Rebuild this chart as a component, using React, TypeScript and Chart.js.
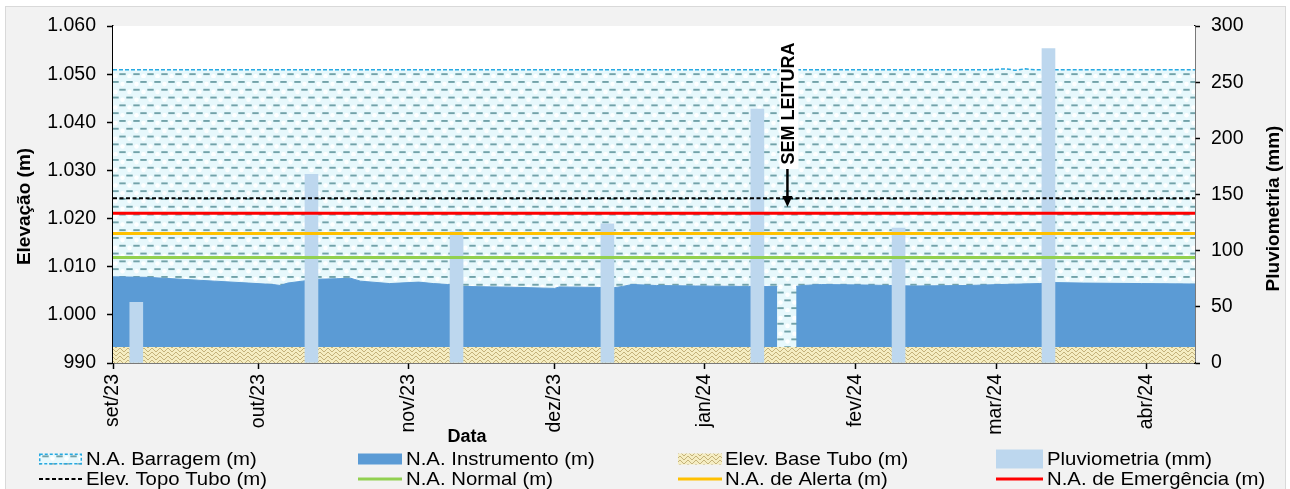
import React, { useEffect, useRef } from 'react';
import { Chart, registerables } from 'chart.js';

Chart.register(...registerables);

// ---- X axis (days since 01/set/23) ----
const monthStartDays = [0, 30, 61, 91, 122, 153, 182, 213];
const monthLabels = ['set/23', 'out/23', 'nov/23', 'dez/23', 'jan/24', 'fev/24', 'mar/24', 'abr/24'];
const xMaxDay = 223;

// ---- N.A. Barragem (m) ----
const barragemDays = [0, 60, 120, 180, 184, 186, 188, 190, 223];
const barragemValues = [1050.9, 1050.9, 1050.9, 1050.9, 1051.1, 1050.8, 1051.1, 1050.9, 1050.9];

// ---- N.A. Instrumento (m) (null = sem leitura) ----
const instrumentoDays = [
  0, 7, 14, 21, 28, 33, 34.5, 36, 39, 42, 46, 49, 51, 57, 63, 66, 69, 72, 82, 91, 92, 100, 103, 105, 107,
  112, 120, 131, 136.9, 137, 140.8, 142, 146, 155, 160, 165, 176, 183, 191, 194, 200, 212, 223,
];
const instrumentoValues = [
  1007.9, 1007.8, 1007.4, 1007.0, 1006.6, 1006.3, 1006.1, 1006.6, 1007.0, 1007.4, 1007.5, 1007.6, 1007.0,
  1006.5, 1006.8, 1006.5, 1006.3, 1005.9, 1005.75, 1005.5, 1005.8, 1005.7, 1005.6, 1005.9, 1006.3, 1006.1,
  1006.0, 1005.9, 1005.9, null, 1005.9, 1006.1, 1006.3, 1006.2, 1006.1, 1006.0, 1006.1, 1006.3, 1006.5,
  1006.7, 1006.6, 1006.5, 1006.4,
];

// ---- Reference levels (m) ----
const baseTuboValue = 993.3;
const topoTuboValue = 1024.2;
const normalValue = 1011.9;
const alertaValue = 1016.9;
const emergenciaValue = 1021.1;

// ---- Pluviometria (mm) ----
const chuvaDays = [4.8, 40.9, 70.8, 101.9, 132.8, 161.9, 192.8];
const chuvaValues = [54, 168, 117, 124, 226, 120, 280];

// ---- Annotation ----
const semLeituraText = 'SEM LEITURA';
const semLeituraDay = 139;
const semLeituraTipValue = 1022.4;

const FONT = "'Liberation Sans', Arial, sans-serif";

function fmtThousands(v: number): string {
  const s = Math.round(v).toString();
  return s.length > 3 ? s.slice(0, -3) + '.' + s.slice(-3) : s;
}

function makeWaterPattern(ctx: CanvasRenderingContext2D): CanvasPattern {
  const c = document.createElement('canvas');
  c.width = 14;
  c.height = 78;
  const g = c.getContext('2d')!;
  g.fillStyle = '#e7f8fc';
  g.fillRect(0, 0, 14, 78);
  for (let i = 0; i < 10; i++) {
    const y = 3.9 + i * 7.8;
    const off = (i % 2) * 7;
    g.fillStyle = 'rgba(255,255,255,0.95)';
    g.beginPath();
    g.arc((off + 10.5) % 14, y + 2.2, 2.3, 0, Math.PI * 2);
    g.fill();
    g.fillStyle = '#72a2a9';
    g.fillRect(off + 0.3, y - 0.9, 6.4, 1.9);
  }
  return ctx.createPattern(c, 'repeat')!;
}

function makeWeavePattern(ctx: CanvasRenderingContext2D): CanvasPattern {
  const c = document.createElement('canvas');
  c.width = 8;
  c.height = 8;
  const g = c.getContext('2d')!;
  g.fillStyle = '#f5edc2';
  g.fillRect(0, 0, 8, 8);
  g.strokeStyle = '#c4b27a';
  g.lineWidth = 1;
  g.beginPath();
  g.moveTo(0, 0);
  g.lineTo(4, 4);
  g.lineTo(8, 0);
  g.moveTo(0, 4);
  g.lineTo(2, 6);
  g.moveTo(6, 6);
  g.lineTo(8, 4);
  g.moveTo(2, 6);
  g.lineTo(4, 8);
  g.moveTo(6, 6);
  g.lineTo(4, 8);
  g.stroke();
  return ctx.createPattern(c, 'repeat')!;
}

export default function App() {
  const ref = useRef<HTMLCanvasElement>(null);

  useEffect(() => {
    const canvas = ref.current!;
    const ctx = canvas.getContext('2d')!;
    const water = makeWaterPattern(ctx);
    const weave = makeWeavePattern(ctx);

    const pts = (xs: number[], ys: (number | null)[]) => xs.map((x, i) => ({ x, y: ys[i] }));
    const flat = (v: number) => [
      { x: 0, y: v },
      { x: xMaxDay, y: v },
    ];

    const legendSymX = [39, 358, 678, 996];
    const legendSymW = [43, 44, 44, 47];
    const legendTextX = [86, 406, 725, 1047];
    const legendRowY = [459, 479];

    const chromePlugin = {
      id: 'chrome',
      beforeDatasetsDraw(chart: any) {
        const a = chart.chartArea;
        const c = chart.ctx;
        c.save();
        c.fillStyle = '#ffffff';
        c.fillRect(a.left, a.top, a.right - a.left, a.bottom - a.top);
        c.restore();
      },
      afterDraw(chart: any) {
        const c: CanvasRenderingContext2D = chart.ctx;
        const a = chart.chartArea;
        const xs = chart.scales.x;
        const ys = chart.scales.y;

        // Axis titles
        c.save();
        c.fillStyle = '#000';
        c.font = `bold 19px ${FONT}`;
        c.textAlign = 'center';
        c.textBaseline = 'middle';
        c.save();
        c.translate(25, (a.top + a.bottom) / 2 + 12);
        c.rotate(-Math.PI / 2);
        c.fillText('Elevação (m)', 0, 0);
        c.restore();
        c.save();
        c.translate(1274, (a.top + a.bottom) / 2 + 14);
        c.rotate(-Math.PI / 2);
        c.fillText('Pluviometria (mm)', 0, 0);
        c.restore();
        c.font = `bold 18px ${FONT}`;
        c.fillText('Data', 467, 437);
        c.restore();

        // SEM LEITURA annotation
        const ax = xs.getPixelForValue(semLeituraDay);
        const tipY = ys.getPixelForValue(semLeituraTipValue);
        c.save();
        c.font = `bold 18px ${FONT}`;
        const tw = c.measureText(semLeituraText).width;
        const boxTop = a.top + 12;
        const boxH = tw + 9;
        c.fillStyle = '#ffffff';
        c.fillRect(ax - 8, boxTop, 19, boxH);
        c.fillStyle = '#000';
        c.textAlign = 'center';
        c.textBaseline = 'middle';
        c.save();
        c.translate(ax + 1.5, boxTop + boxH / 2);
        c.rotate(-Math.PI / 2);
        c.fillText(semLeituraText, 0, 0);
        c.restore();
        c.strokeStyle = '#000';
        c.lineWidth = 2.5;
        c.beginPath();
        c.moveTo(ax, boxTop + boxH);
        c.lineTo(ax, tipY - 8);
        c.stroke();
        c.beginPath();
        c.moveTo(ax - 5, tipY - 11);
        c.lineTo(ax + 5, tipY - 11);
        c.lineTo(ax, tipY);
        c.closePath();
        c.fill();
        c.restore();

        // Legend
        const dsets = chart.data.datasets;
        c.save();
        dsets.forEach((ds: any, i: number) => {
          const col = i % 4;
          const row = Math.floor(i / 4);
          const sx = legendSymX[col];
          const sw = legendSymW[col];
          const cy = legendRowY[row];
          if (ds.legendKind === 'rect') {
            const h = ds.legendTall ? 19 : 11;
            c.fillStyle = ds.backgroundColor;
            c.fillRect(sx, cy - h / 2, sw, h);
            if (ds.legendDashBorder) {
              c.strokeStyle = ds.borderColor;
              c.lineWidth = 1.5;
              c.setLineDash([3, 2]);
              c.strokeRect(sx + 0.75, cy - h / 2 + 0.75, sw - 1.5, h - 1.5);
              c.setLineDash([]);
            }
          } else {
            c.strokeStyle = ds.borderColor;
            c.lineWidth = ds.borderWidth;
            c.setLineDash(ds.borderDash || []);
            c.beginPath();
            c.moveTo(sx, cy);
            c.lineTo(sx + sw, cy);
            c.stroke();
            c.setLineDash([]);
          }
          c.fillStyle = '#000';
          c.font = `18.5px ${FONT}`;
          c.textAlign = 'left';
          c.textBaseline = 'middle';
          c.save();
          c.translate(legendTextX[col], cy + 1);
          c.scale(1.1, 1);
          c.fillText(ds.label, 0, 0);
          c.restore();
        });
        c.restore();
      },
    };

    const tickFont = { family: FONT, size: 19.5 };

    const chart = new Chart(ctx, {
      type: 'line',
      data: {
        datasets: [
          {
            label: 'N.A. Barragem (m)',
            data: pts(barragemDays, barragemValues),
            fill: 'start',
            backgroundColor: water,
            borderColor: '#27a9e1',
            borderWidth: 1.5,
            borderDash: [4, 2],
            pointRadius: 0,
            yAxisID: 'y',
            order: 10,
            legendKind: 'rect',
            legendDashBorder: true,
          },
          {
            label: 'N.A. Instrumento (m)',
            data: pts(instrumentoDays, instrumentoValues),
            fill: 'start',
            backgroundColor: '#5b9bd5',
            borderColor: '#5b9bd5',
            borderWidth: 1,
            pointRadius: 0,
            spanGaps: false,
            yAxisID: 'y',
            order: 9,
            legendKind: 'rect',
          },
          {
            label: 'Elev. Base Tubo (m)',
            data: flat(baseTuboValue),
            fill: 'start',
            backgroundColor: weave,
            borderColor: 'rgba(0,0,0,0)',
            borderWidth: 1,
            pointRadius: 0,
            yAxisID: 'y',
            order: 8,
            legendKind: 'rect',
          },
          {
            type: 'bar',
            label: 'Pluviometria (mm)',
            data: pts(chuvaDays, chuvaValues),
            backgroundColor: '#bdd7ee',
            barThickness: 13,
            yAxisID: 'y1',
            order: 5,
            legendKind: 'rect',
            legendTall: true,
          },
          {
            label: 'Elev. Topo Tubo (m)',
            data: flat(topoTuboValue),
            borderColor: '#000000',
            borderWidth: 2,
            borderDash: [4, 2.5],
            pointRadius: 0,
            fill: false,
            yAxisID: 'y',
            order: 3,
          },
          {
            label: 'N.A. Normal (m)',
            data: flat(normalValue),
            borderColor: '#92d050',
            borderWidth: 3,
            pointRadius: 0,
            fill: false,
            yAxisID: 'y',
            order: 2,
          },
          {
            label: 'N.A. de Alerta (m)',
            data: flat(alertaValue),
            borderColor: '#ffc000',
            borderWidth: 3,
            pointRadius: 0,
            fill: false,
            yAxisID: 'y',
            order: 1,
          },
          {
            label: 'N.A. de Emergência (m)',
            data: flat(emergenciaValue),
            borderColor: '#ff0000',
            borderWidth: 3,
            pointRadius: 0,
            fill: false,
            yAxisID: 'y',
            order: 0,
          },
        ] as any,
      },
      options: {
        animation: false,
        responsive: false,
        devicePixelRatio: 1,
        layout: { padding: { top: 26, left: 0, right: 0, bottom: 0 } },
        plugins: { legend: { display: false }, tooltip: { enabled: false } },
        elements: { line: { tension: 0 } },
        scales: {
          x: {
            type: 'linear',
            min: 0,
            max: xMaxDay,
            offset: false,
            afterBuildTicks: (s: any) => {
              s.ticks = monthStartDays.map((v) => ({ value: v }));
            },
            afterFit: (s: any) => {
              s.height = 126;
            },
            ticks: {
              autoSkip: false,
              maxRotation: 90,
              minRotation: 90,
              padding: 5,
              color: '#000',
              font: tickFont,
              callback: (_v: any, i: number) => monthLabels[i],
            },
            grid: {
              display: true,
              offset: false,
              drawOnChartArea: false,
              drawTicks: true,
              tickLength: 6,
              tickColor: '#000',
              tickWidth: 1.5,
            },
            border: { display: true, color: '#000', width: 1.5 },
          },
          y: {
            type: 'linear',
            position: 'left',
            min: 990,
            max: 1060,
            afterFit: (s: any) => {
              s.width = 113;
            },
            ticks: {
              stepSize: 10,
              padding: 11,
              color: '#000',
              font: tickFont,
              callback: (v: any) => fmtThousands(Number(v)),
            },
            grid: {
              display: true,
              drawOnChartArea: false,
              drawTicks: true,
              tickLength: 6,
              tickColor: '#000',
              tickWidth: 1.5,
            },
            border: { display: true, color: '#000', width: 1.5 },
          },
          y1: {
            type: 'linear',
            position: 'right',
            min: 0,
            max: 300,
            afterFit: (s: any) => {
              s.width = 95;
            },
            ticks: {
              stepSize: 50,
              padding: 11,
              color: '#000',
              font: tickFont,
            },
            grid: {
              display: true,
              drawOnChartArea: false,
              drawTicks: true,
              tickLength: 5,
              tickColor: '#000',
              tickWidth: 1.5,
            },
            border: { display: true, color: '#000', width: 1.5 },
          },
        },
      } as any,
      plugins: [chromePlugin],
    });

    return () => chart.destroy();
  }, []);

  return (
    <div
      style={{
        position: 'absolute',
        left: 0,
        top: 0,
        width: 1290,
        height: 489,
        overflow: 'hidden',
        background: '#ffffff',
      }}
    >
      <div
        style={{
          position: 'absolute',
          left: 5,
          top: 6,
          width: 1279,
          height: 500,
          background: '#f2f2f2',
          border: '1px solid #d9d9d9',
        }}
      />
      <canvas
        ref={ref}
        width={1290}
        height={489}
        style={{ position: 'absolute', left: 0, top: 0, width: 1290, height: 489 }}
      />
    </div>
  );
}
